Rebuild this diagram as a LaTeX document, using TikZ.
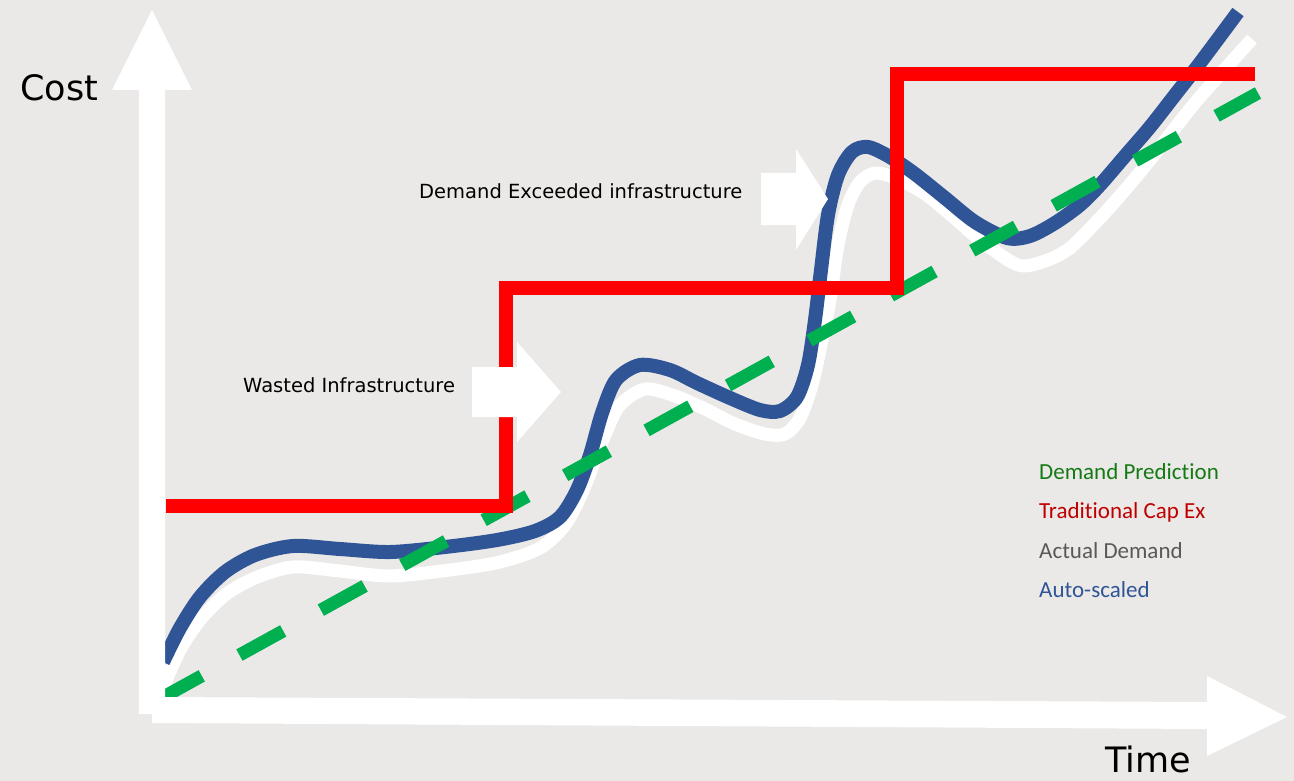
\documentclass[tikz,border=0pt]{standalone}
\usepackage{fontspec}
\setmainfont{DejaVu Sans}
\newfontfamily\legendfont[Ligatures=NoCommon]{Carlito}
\usepackage{tikz}
\usetikzlibrary{positioning}
\usetikzlibrary{calc}
\definecolor{bgcol}{RGB}{235,233,231}
\definecolor{autoblue}{RGB}{47,85,151}
\definecolor{predgreen}{RGB}{0,176,80}
\definecolor{legendgreen}{RGB}{20,122,20}
\definecolor{legendred}{RGB}{192,0,0}
\definecolor{legendgray}{RGB}{89,89,89}

\begin{document}
\begin{tikzpicture}[x=1pt, y=-1pt,
				curve/.style={line width=14pt, line join=round},
				annot/.style={inner sep=0pt, anchor=base west, font=\fontsize{19.5}{23}\selectfont},
				axistext/.style={inner sep=0pt, anchor=base west, font=\fontsize{35}{40}\selectfont},
				legend/.style={inner sep=0pt, anchor=base west, font=\legendfont\fontsize{23}{27}\selectfont}]
				\useasboundingbox (0,0) rectangle (1294,781);
				\fill[bgcol] (0,0) rectangle (1294,781);
				
				% actual demand and auto-scaled
				\draw[curve, white, line width=13pt] plot[smooth] coordinates {(162,690) (180,650) (200,620) (225,595) (255,578) (293,567) (340,571) (390,576) (450,570) (500,562) (540,548) (565,525) (582,493) (595,460) (607,430) (620,405) (645,389) (675,396) (705,409) (735,424) (765,434) (785,434) (800,418) (812,385) (822,340) (830,300) (838,245) (848,205) (860,182) (876,173) (900,180) (925,194) (950,214) (980,240) (1018,265) (1045,261) (1070,248) (1100,218) (1125,190) (1150,160) (1175,128) (1200,97) (1252,39)};
				\draw[curve, autoblue] plot[smooth] coordinates {(163,662) (180,628) (200,597) (225,572) (255,555) (293,546) (340,549) (390,552) (445,547) (497,540) (535,531) (560,517) (577,490) (590,455) (602,413) (616,380) (640,365) (670,370) (697,383) (730,398) (760,410) (780,411) (797,397) (808,365) (815,320) (821,270) (828,215) (838,175) (852,152) (868,147) (890,157) (915,174) (945,198) (975,222) (1007,238) (1030,236) (1055,223) (1080,205) (1100,185) (1125,156) (1150,127) (1175,95) (1200,63) (1238,12)};
				
				% prediction
				\draw[line width=13pt, predgreen, dash pattern=on 50pt off 43pt] (158,700) -- (1258,93);
				
				% traditional cap ex
				\draw[line width=14pt, red] (166,506) -- (506,506) -- (506,288) -- (897,288) -- (897,74) -- (1255,74);
				
				% pointers
				\fill[white] (472,367) -- (517,367) -- (517,342) -- (561,392) -- (517,442) -- (517,417) -- (472,417) -- cycle;
				\fill[white] (761,173) -- (796,173) -- (796,149) -- (828,199) -- (796,250) -- (796,225) -- (761,225) -- cycle;
				
				% axes
				\fill[white] (139,714) -- (139,90) -- (112,90) -- (152,10) -- (192,90) -- (165,90) -- (165,714) -- cycle;
				\fill[white] (152,697) -- (1207,702) -- (1207,676) -- (1287,717) -- (1207,756) -- (1207,729) -- (152,723) -- cycle;
				
				\node[axistext](node1) at (20,101) {Cost};
				\node[axistext](node2) at (1105,772) {Time};
				
				\node[annot](node3) at (243,392) {Wasted Infrastructure};
				\node[annot](node4) at (419,199) {Demand Exceeded infrastructure};
				
				\node[legend, text=legendgreen](legend1) at (1039,479) {Demand Prediction};
				\node[legend, text=legendred, below=39.5pt of legend1.base west, anchor=base west](legend2) {Traditional Cap Ex};
				\node[legend, text=legendgray, below=39.5pt of legend2.base west, anchor=base west](legend3) {Actual Demand};
				\node[legend, text=autoblue, below=39.5pt of legend3.base west, anchor=base west](legend4) {Auto-scaled};
			\end{tikzpicture}
\end{document}
